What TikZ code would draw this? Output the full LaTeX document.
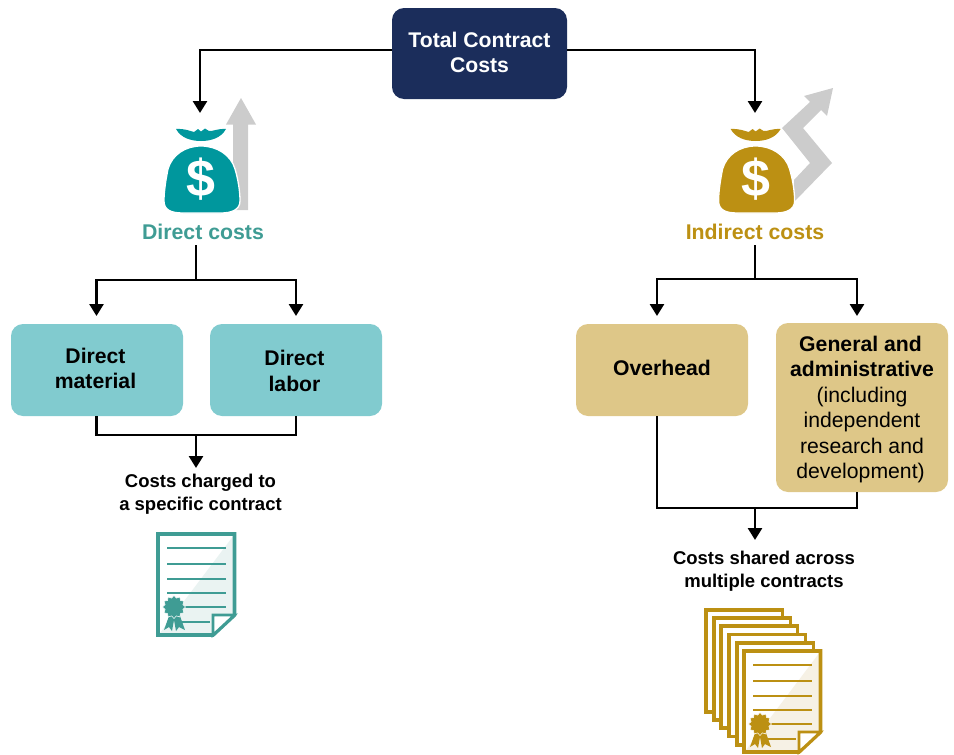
\documentclass[tikz,border=0pt]{standalone}
\usepackage{fontspec}
\setmainfont{Liberation Sans}
\usetikzlibrary{arrows.meta,shapes.geometric}
\definecolor{navy}{HTML}{1B2D5B}
\definecolor{tealbox}{HTML}{81CBCF}
\definecolor{goldbox}{HTML}{DEC788}
\definecolor{tealbag}{HTML}{00979D}
\definecolor{goldbag}{HTML}{BC9013}
\definecolor{tealtxt}{HTML}{3F9C94}
\definecolor{tealpale}{HTML}{EAF3F2}
\definecolor{goldpale}{HTML}{F6F1E5}
\definecolor{arrowgray}{HTML}{CCCCCC}
\newcommand{\nudgeleft}{\hspace*{3pt}}
\tikzset{
  x=1pt,y=-1pt,
  costbox/.style={rounded corners=12pt,minimum width=172pt,minimum height=92pt,align=center,inner sep=0pt,text=black,font=\fontsize{21.2}{25.5}\selectfont\bfseries},
  conn/.style={draw=black,line width=2.7pt,line join=miter},
  arr/.style={conn,-{Triangle[width=14pt,length=12pt]}},
  heading/.style={font=\fontsize{21.3}{25}\selectfont\bfseries,inner sep=0pt},
  caption/.style={font=\fontsize{18.5}{22.7}\selectfont\bfseries,align=center,inner sep=0pt,text=black},
  graybar/.style={fill=arrowgray,draw=none},
  pics/moneybag/.style={code={
    \fill[#1] (-25,-58) .. controls (-16,-58.5) and (-11,-56) .. (-7,-55) -- (-3,-58) -- (0,-55.5) -- (4,-58.5) -- (8,-56)
      .. controls (12,-55.5) and (16,-58.5) .. (25,-58)
      .. controls (20,-49) and (10,-46) .. (0,-46) .. controls (-10,-46) and (-20,-49) .. (-25,-58) -- cycle;
    \filldraw[draw=white,line width=1.3pt,fill=#1] (0,-41) .. controls (16,-41) and (30,-32) .. (34,-18)
      .. controls (37,-8) and (39,4) .. (39,14) .. controls (39,23) and (30,26) .. (20,26) -- (-18,26)
      .. controls (-30,26) and (-37,23) .. (-37,14) .. controls (-37,4) and (-35,-8) .. (-33,-18)
      .. controls (-29,-32) and (-16,-41) .. (0,-41) -- cycle;
    \node[text=white,inner sep=0pt,font=\fontsize{52}{52}\selectfont\bfseries] (#1-dollar) at (0,-8) {\$};
  }},
  pics/certificate/.style args={#1/#2}{code={
    \fill[white] (0,0) rectangle (80,105);
    \fill[#2] (4,101) -- (76.5,5) -- (76.5,83) -- (57,101) -- cycle;
    \draw[#1,line width=3.8pt,line join=miter] (2,2) -- (78.5,2) -- (78.5,83) -- (57,103) -- (2,103) -- cycle;
    \filldraw[fill=white,draw=#1,line width=2.6pt,line join=miter] (57,103) -- (57,83) -- (78.5,83) -- cycle;
    \foreach \ly in {16,32,47,61} \draw[#1,line width=1.7pt] (11,\ly) -- (70,\ly);
    \draw[#1,line width=1.7pt] (26,75) -- (70,75);
    \draw[#1,line width=1.7pt] (26,90) -- (54,90);
    \fill[#1] (8,98) -- (13,84) -- (24,84) -- (29,98) -- (23,95) -- (20,99) -- (18,88) -- (16,99) -- (13,95) -- cycle;
    \node[star,star points=12,star point ratio=1.25,fill=#1,draw=white,line width=0.5pt,minimum size=23pt,inner sep=0pt] (#1-seal) at (18,75) {};
  }},
}
\begin{document}
\begin{tikzpicture}
\useasboundingbox (0,0) rectangle (954,755);
% grey trend arrows
\fill[graybar] (241,98) -- (256,124.5) -- (248,124.5) -- (248,210) -- (233,210) -- (233,124.5) -- (226,124.5) -- cycle;
\fill[graybar] (833,88) -- (804,96) -- (810,102) -- (782,128) -- (810,163) -- (794,180) -- (794,202) -- (832,163) -- (803,128) -- (821,110) -- (827,116) -- cycle;
% money bags
\pic at (201,187) {moneybag=tealbag};
\pic at (755.6,187) {moneybag=goldbag};
% boxes
\node[costbox,fill=navy,text=white,minimum width=175pt,minimum height=91pt] (total) at (479.5,53.5) {Total Contract\\Costs\rule[-2pt]{0pt}{0pt}};
\node[heading,text=tealtxt] (direct) at (203,232) {Direct costs};
\node[heading,text=goldbag] (indirect) at (755,232) {Indirect costs};
\node[costbox,fill=tealbox] (material) at (97,370) {Direct\nudgeleft\\material\nudgeleft\rule[-3pt]{0pt}{0pt}};
\node[costbox,fill=tealbox] (labor) at (296,370) {\rule{0pt}{17pt}Direct\nudgeleft\\labor\nudgeleft};
\node[costbox,fill=goldbox] (overhead) at (662,370) {Overhead\rule[-4pt]{0pt}{0pt}};
\node[costbox,fill=goldbox,minimum height=169pt] (ga) at (862,407.5) {\rule{0pt}{19pt}General and\nudgeleft\\administrative\nudgeleft\\{\normalfont\mdseries (including}\nudgeleft\\{\normalfont\mdseries independent}\nudgeleft\\{\normalfont\mdseries research and}\nudgeleft\\{\normalfont\mdseries development)}\nudgeleft};
\node[caption] (charged) at (200.5,494.5) {Costs charged to\\a specific contract};
\node[caption] (shared) at (764,571) {Costs shared across\\multiple contracts};
% connector junctions
\coordinate (bagL) at (200,113);
\coordinate (bagR) at (755,113);
\coordinate (dsplit) at (196,280);
\coordinate (isplit) at (755,279);
\coordinate (dmerge) at (196,435);
\coordinate (imerge) at (755,508);
\coordinate (ctopL) at (96.5,316);
\coordinate (ctopR) at (296,316);
\coordinate (itopL) at (657,316);
\coordinate (itopR) at (857,316);
\coordinate (dend) at (196,468);
\coordinate (iend) at (755,540);
% connectors
\draw[arr] ([yshift=3.5pt]total.west) -| (bagL);
\draw[arr] ([yshift=3.5pt]total.east) -| (bagR);
\draw[conn] (dsplit |- direct.south) ++(0,5) -- (dsplit);
\draw[arr] (dsplit) -| (ctopL);
\draw[arr] (dsplit) -| (ctopR);
\draw[conn] (isplit |- indirect.south) ++(0,5) -- (isplit);
\draw[arr] (isplit) -| (itopL);
\draw[arr] (isplit) -| (itopR);
\draw[conn] (material.south -| ctopL) |- (dmerge) -| (labor.south);
\draw[arr] (dmerge) -- (dend);
\draw[conn] (overhead.south -| itopL) |- (imerge) -| (ga.south -| itopR);
\draw[arr] (imerge) -- (iend);
% documents
\pic at (156,532) {certificate=tealtxt/tealpale};
\foreach \sx/\sy in {704/608,712/616,719/624,727/632.5,735/641}
  \filldraw[fill=white,draw=goldbag,line width=3.8pt,line join=miter] (\sx+2,\sy+2) rectangle (\sx+78.5,\sy+104);
\pic at (742,649) {certificate=goldbag/goldpale};
\end{tikzpicture}
\end{document}
